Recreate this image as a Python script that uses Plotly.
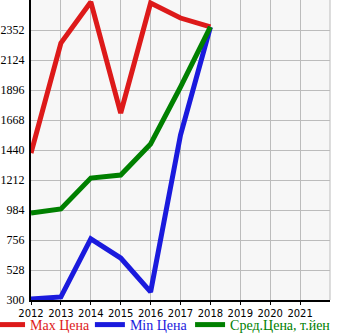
import plotly.graph_objects as go

years = [2012, 2013, 2014, 2015, 2016, 2017, 2018]
max_price = [1417, 2253, 2565, 1721, 2557, 2443, 2375]
min_price = [308, 323, 764, 619, 361, 1554, 2375]
avg_price = [961, 992, 1227, 1250, 1486, 1919, 2375]

x_ticks = list(range(2012, 2022))
y_ticks = [300, 528, 756, 984, 1212, 1440, 1668, 1896, 2124, 2352, 2580]
y_labels = [str(v) for v in y_ticks[:-1]] + [""]

series = [
    ("Max Цена", max_price, "#dd1a1a", "legend", -0.137),
    ("Min Цена", min_price, "#1a1add", "legend2", 0.197),
    ("Сред.Цена, т.йен", avg_price, "#008000", "legend3", 0.532),
]

fig = go.Figure()
legends = {}
for name, vals, col, lg, lx in series:
    fig.add_trace(go.Scatter(
        x=years, y=vals, mode="lines", line=dict(color=col, width=5),
        name=f"<span style='color:{col}'>{name}</span>", legend=lg,
    ))
    legends[lg] = dict(orientation="h", x=lx, xanchor="left", y=-0.03, yanchor="top",
                       font=dict(family="Liberation Serif", size=14),
                       bgcolor="rgba(0,0,0,0)")

fig.update_layout(
    width=345, height=335,
    margin=dict(l=31, r=15, t=0, b=35, autoexpand=False),
    paper_bgcolor="white", plot_bgcolor="#f7f7f7",
    showlegend=True,
    **legends,
    xaxis=dict(range=[2012, 2022], tickvals=x_ticks, ticktext=[str(v) for v in x_ticks],
               tickangle=0,
               showgrid=True, gridcolor="#bcbcbc", gridwidth=1,
               showline=True, linecolor="black", linewidth=2,
               ticks="outside", ticklen=3, tickcolor="black",
               tickfont=dict(family="DejaVu Sans", size=10, color="black"),
               zeroline=False, mirror=False, automargin=False),
    yaxis=dict(range=[300, 2580], tickvals=y_ticks, ticktext=y_labels,
               showgrid=True, gridcolor="#bcbcbc", gridwidth=1,
               showline=True, linecolor="black", linewidth=2,
               ticks="", ticklabelstandoff=2,
               tickfont=dict(family="Liberation Serif", size=12, color="black"),
               zeroline=False, automargin=False),
)
fig.add_shape(type="line", xref="paper", yref="paper", x0=1, x1=1, y0=0, y1=1,
              line=dict(color="#bcbcbc", width=1))
fig.write_html("out.html")
